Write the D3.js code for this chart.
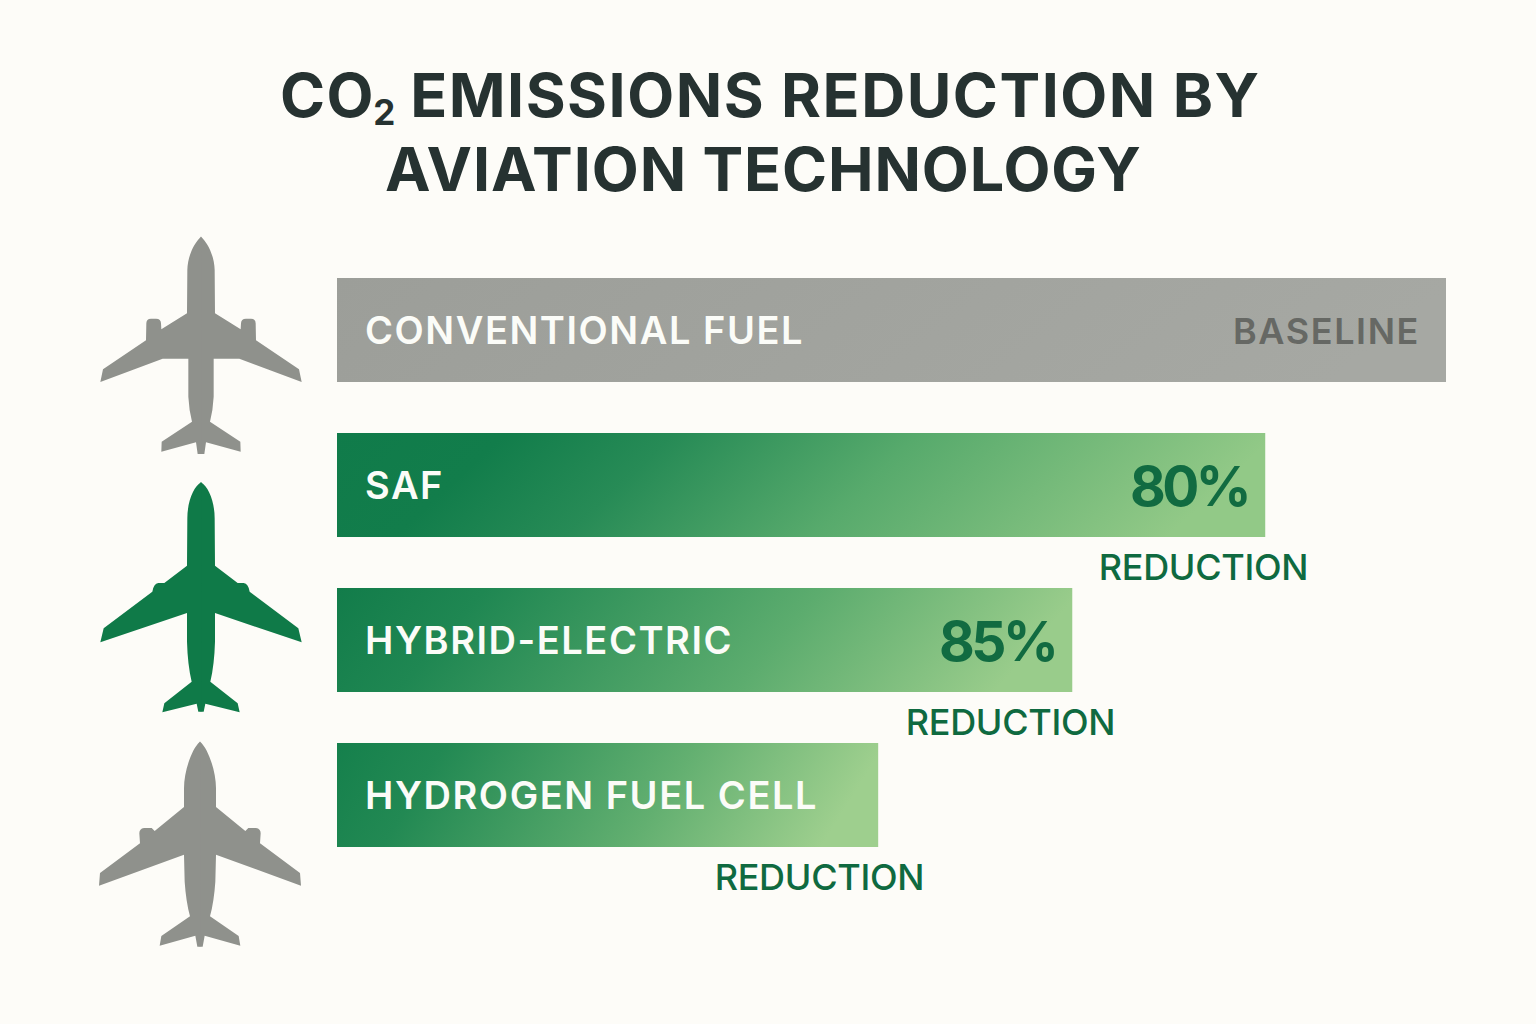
<!DOCTYPE html>
<html lang="en">
<head>
<meta charset="UTF-8">
<title>CO2 Emissions Reduction by Aviation Technology</title>
<script src="https://d3js.org/d3.v7.min.js"></script>
<style>
  html, body { margin: 0; padding: 0; background: #fdfcf8; }
  svg { display: block; }
  text { font-family: Inter, "Noto Sans", sans-serif; }
</style>
</head>
<body>
<div id="chart"></div>
<script>
// data
var categories = ["CONVENTIONAL FUEL", "SAF", "HYBRID-ELECTRIC", "HYDROGEN FUEL CELL"];
var barLengths = [100, 83.7, 66.3, 48.8];
var valueLabels = ["BASELINE", "80%", "85%", ""];
var captions = ["", "REDUCTION", "REDUCTION", "REDUCTION"];
var titleLines = ["EMISSIONS REDUCTION BY", "AVIATION TECHNOLOGY"];

// right half of each plane, traced at 3x, mirrored around x=330
var planes = [
  {x: 91, y: 230, color: "#8f918c",
   half: "M329,20 L330,20 C352,40 370,80 371,120 L372,250 L449,298 L450,280 Q450,266 465,266 L480,266 Q494,266 494,280 L495,331 L624,418 L632,456 L445,386 L368,386 L368,500 Q366,540 357,575 L448,635 L449,665 L345,637 L340,672 L329,672 Z"},
  {x: 91, y: 475, color: "#0f7a48",
   half: "M329,22 L330,22 C352,35 371,80 371,130 L372,272 L440,324 L458,324 Q472,326 476,350 L622,460 L632,502 L372,414 L372,500 Q370,570 358,620 L440,685 L446,712 L343,686 L338,710 L329,710 Z"},
  {x: 90, y: 735, color: "#8f918c",
   half: "M329,20 L330,20 C355,40 378,110 378,160 L378,216 L466,288 L475,279 L498,279 Q512,281 512,295 L510,325 L630,414 L633,452 L378,359 L376,440 Q372,500 360,544 L446,603 L451,632 L344,602 L338,635 L329,635 Z"}
];

var svg = d3.select("#chart").append("svg")
  .attr("width", 1536)
  .attr("height", 1024);

var x = d3.scaleLinear().domain([0, 100]).range([337, 1446]);
var y = d3.scaleBand().domain(categories).range([278, 847]).paddingInner(0.329);

var defs = svg.append("defs");

function addGradient(id, stops) {
  var g = defs.append("linearGradient").attr("id", id)
    .attr("x1", "0").attr("y1", "0").attr("x2", "1").attr("y2", "0.12");
  stops.forEach(function(s) {
    g.append("stop").attr("offset", s[0]).attr("stop-color", s[1]);
  });
}
addGradient("grad0", [[0, "#9c9e99"], [1, "#a6a8a3"]]);
addGradient("grad1", [[0, "#107b4a"], [0.18, "#127d4b"], [0.36, "#278b56"], [0.62, "#57aa6c"], [1, "#92c987"]]);
addGradient("grad2", [[0, "#127c4a"], [0.2, "#1f8752"], [0.65, "#5cac6e"], [1, "#99cc8b"]]);
addGradient("grad3", [[0, "#15804c"], [0.2, "#228953"], [0.65, "#62af70"], [1, "#9ecf8e"]]);

// title
var titleColor = "#263231";
var title1 = svg.append("text")
  .attr("x", 280).attr("y", 117)
  .attr("font-size", 61).attr("font-weight", 700)
  .attr("letter-spacing", 1.5)
  .attr("fill", titleColor);
title1.append("tspan").text("CO");
title1.append("tspan").attr("font-size", 35).attr("dy", 8).attr("dx", -2).attr("letter-spacing", 0).text("2");
title1.append("tspan").attr("dy", -8).attr("dx", -1).attr("letter-spacing", 1.5).text(" " + titleLines[0]);

svg.append("text")
  .attr("x", 385).attr("y", 191)
  .attr("font-size", 61).attr("font-weight", 700)
  .attr("letter-spacing", 0.9)
  .attr("fill", titleColor)
  .text(titleLines[1]);

// planes
planes.forEach(function(p) {
  var g = svg.append("g")
    .attr("transform", "translate(" + p.x + "," + p.y + ") scale(" + (1 / 3) + ")")
    .attr("fill", p.color);
  g.append("path").attr("d", p.half);
  g.append("path").attr("d", p.half).attr("transform", "translate(660,0) scale(-1,1)");
});

// bars
svg.selectAll("rect.bar")
  .data(categories)
  .enter().append("rect")
  .attr("class", "bar")
  .attr("x", x(0))
  .attr("y", function(d) { return y(d); })
  .attr("width", function(d, i) { return x(barLengths[i]) - x(0); })
  .attr("height", y.bandwidth())
  .attr("fill", function(d, i) { return "url(#grad" + i + ")"; });

// names inside the bars
svg.selectAll("text.name")
  .data(categories)
  .enter().append("text")
  .attr("class", "name")
  .attr("x", x(0) + 28)
  .attr("y", function(d) { return y(d) + y.bandwidth() / 2 + 14; })
  .attr("font-size", 38).attr("font-weight", 600)
  .attr("letter-spacing", 1.55)
  .attr("fill", "#fbfcf8")
  .text(function(d) { return d; });

// values at the end of the bars
svg.selectAll("text.value")
  .data(categories)
  .enter().append("text")
  .attr("class", "value")
  .attr("x", function(d, i) { return x(barLengths[i]) - (i == 0 ? 26 : 17); })
  .attr("y", function(d, i) { return y(d) + y.bandwidth() / 2 + (i == 0 ? 14 : 21); })
  .attr("text-anchor", "end")
  .attr("font-size", function(d, i) { return i == 0 ? 36 : 55; })
  .attr("font-weight", function(d, i) { return i == 0 ? 600 : 700; })
  .attr("letter-spacing", function(d, i) { return i == 0 ? 1.6 : -3.5; })
  .attr("fill", function(d, i) { return i == 0 ? "#666864" : "#116b41"; })
  .text(function(d, i) { return valueLabels[i]; });

// captions under the bars
svg.selectAll("text.caption")
  .data(categories)
  .enter().append("text")
  .attr("class", "caption")
  .attr("x", function(d, i) { return x(barLengths[i]) + (i == 3 ? 46 : 43); })
  .attr("y", function(d) { return y(d) + y.bandwidth() + 43; })
  .attr("text-anchor", "end")
  .attr("font-size", 36).attr("font-weight", 500)
  .attr("letter-spacing", -0.3)
  .attr("fill", "#0f6a40")
  .text(function(d, i) { return captions[i]; });
</script>
</body>
</html>
